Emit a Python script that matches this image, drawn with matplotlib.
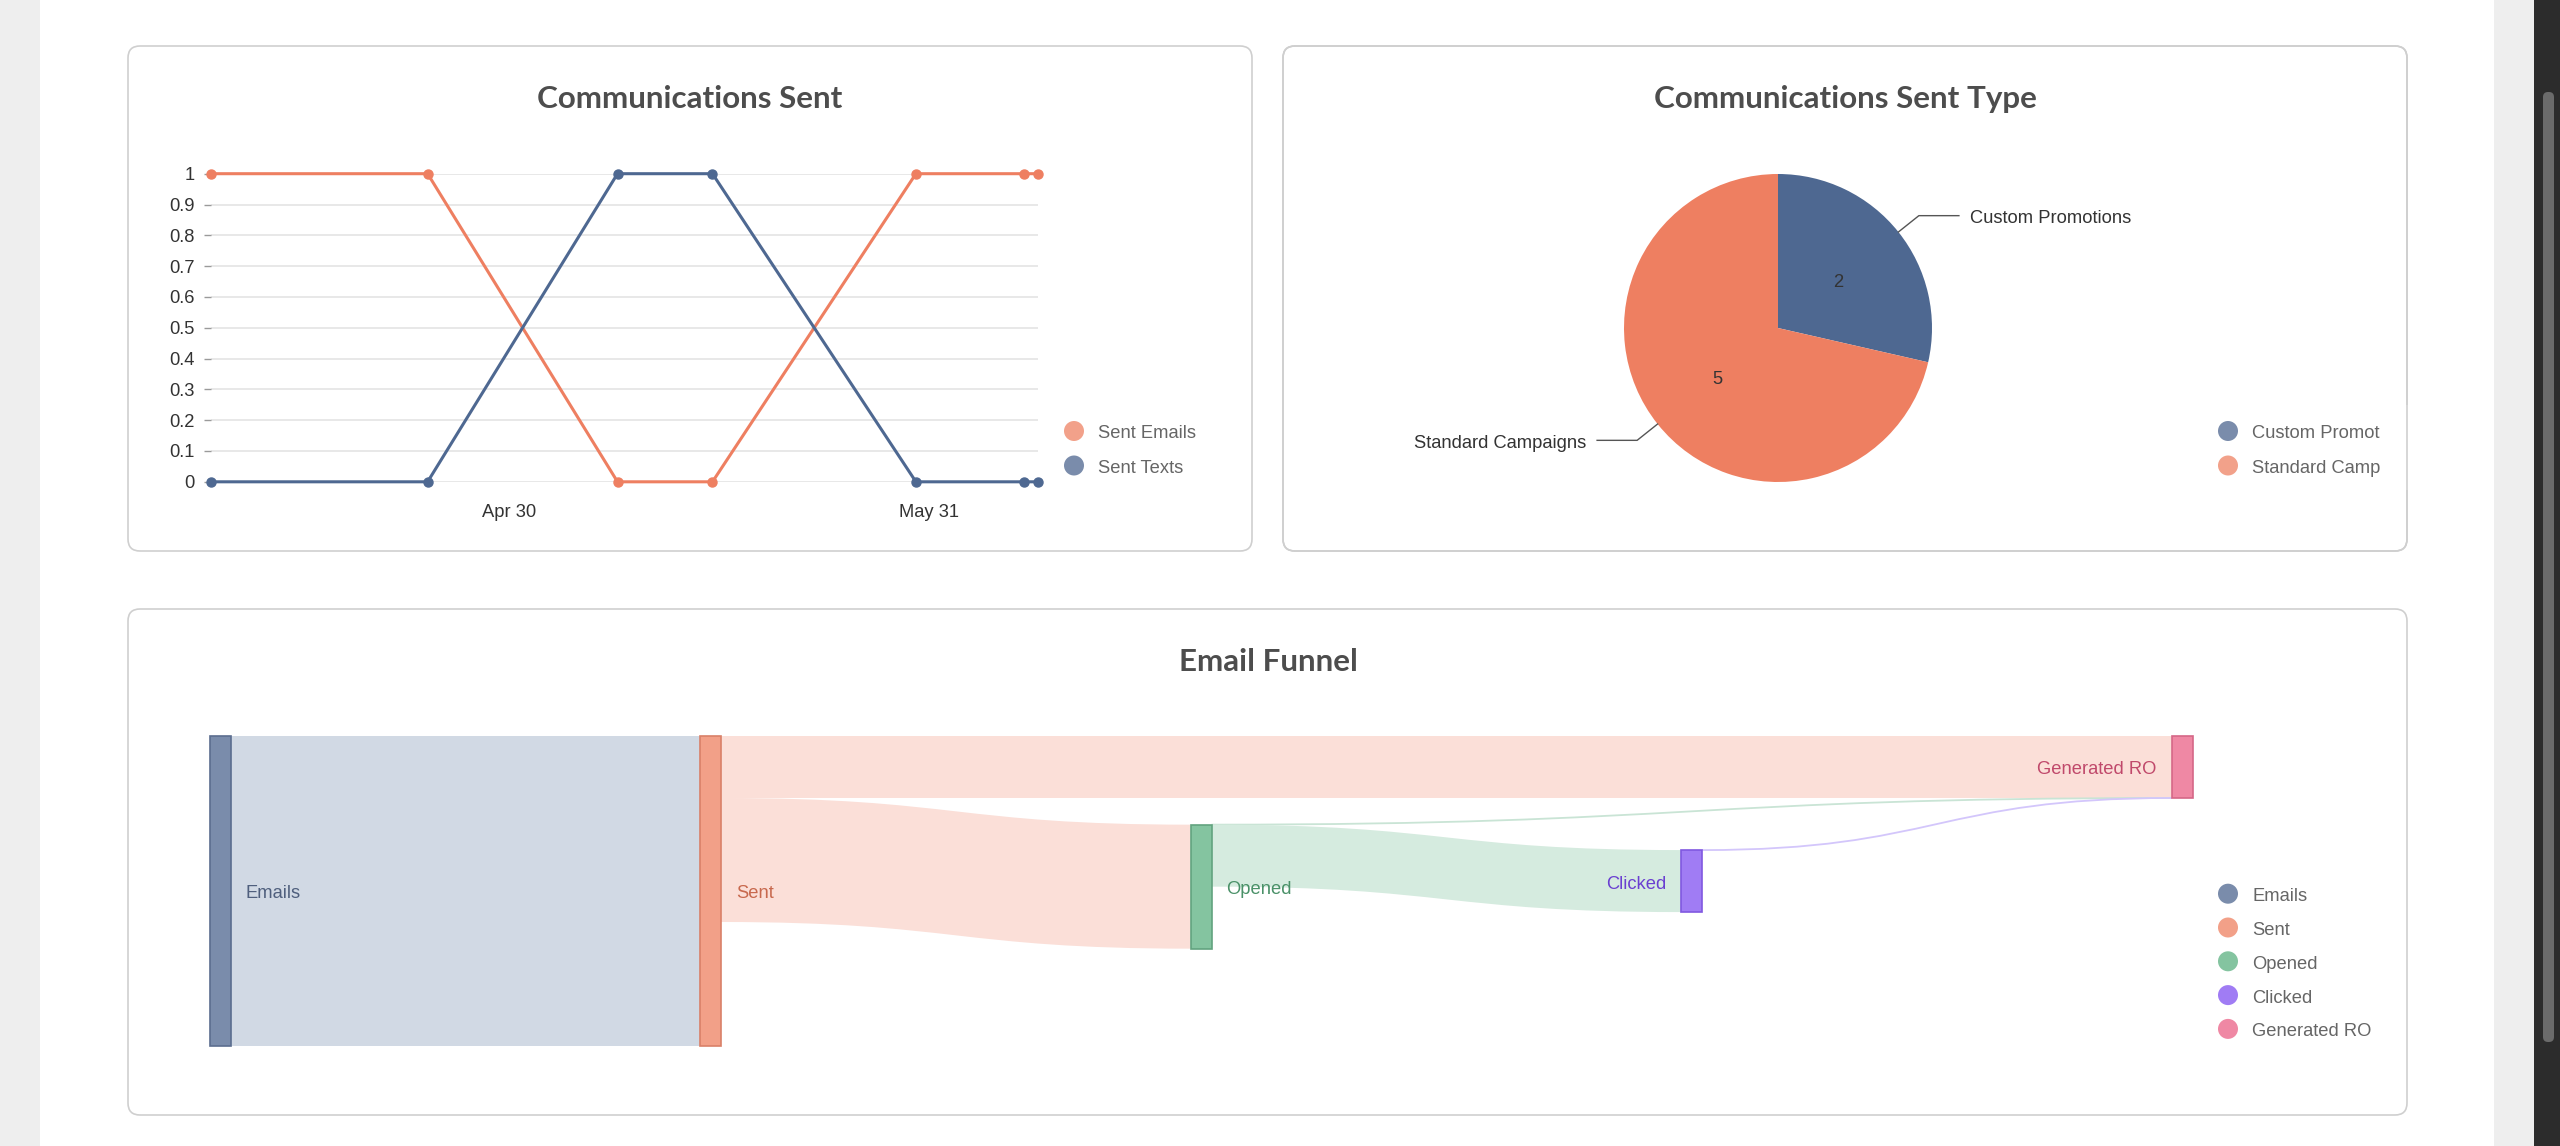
import matplotlib
matplotlib.use("Agg")
import matplotlib.pyplot as plt
import matplotlib.dates as mdates
from matplotlib.patches import FancyBboxPatch, Rectangle, PathPatch, Circle
from matplotlib.path import Path
import numpy as np
from datetime import date

# ---- data ----
comm_dates = [date(2024, 4, 8), date(2024, 4, 24), date(2024, 5, 8), date(2024, 5, 15),
              date(2024, 5, 30), date(2024, 6, 7), date(2024, 6, 8)]
sent_emails = [1, 1, 0, 0, 1, 1, 1]
sent_texts = [0, 0, 1, 1, 0, 0, 0]
comm_series = ["Sent Emails", "Sent Texts"]
comm_ticks = [date(2024, 4, 30), date(2024, 5, 31)]
comm_tick_labels = ["Apr 30", "May 31"]

type_labels = ["Custom Promotions", "Standard Campaigns"]
type_values = [2, 5]

funnel_nodes = ["Emails", "Sent", "Opened", "Clicked", "Generated RO"]
link_source = ["Emails", "Sent", "Sent", "Opened", "Opened", "Clicked"]
link_target = ["Sent", "Generated RO", "Opened", "Generated RO", "Clicked", "Generated RO"]
link_value = [5, 1, 2, 0, 1, 0]

# ---- layout / style ----
W, H = 2560, 1146
PT = 13.2
TITLE_FONT = dict(family="Lato", fontweight="bold", fontsize=22.6, color="#4d4d4d")
TXT_FONT = ["Liberation Sans", "DejaVu Sans"]
DY = 3  # small downward nudge (px) for centred labels

ORANGE = "#ee7f61"
BLUE = "#4e6891"
ORANGE_L = "#f2a18a"
BLUE_L = "#7a8cab"

node_layer = [0, 1, 2, 3, 4]
node_top = [0, 0, 1.43, 1.84, 0]          # sankey vertical layout, in value units
node_fill = ["#7a8cab", "#f2a088", "#84c4a0", "#a07cf4", "#ef88a4"]
node_edge = ["#5b6d8f", "#d98068", "#62a37f", "#8058e0", "#d56787"]
link_fill = ["#d1d9e4", "#fbdfd8", "#d5ebdf", "#d8cdfc", "#fbd5df"]
label_color = ["#4f5f7d", "#c8694e", "#4a9168", "#6a3fd1", "#c0496b"]
label_side = ["right", "right", "right", "left", "left"]

plt.rcParams["font.family"] = TXT_FONT

fig = plt.figure(figsize=(W / 100, H / 100), dpi=100)


def px_axes(x0, y0, x1, y1):
    return fig.add_axes([x0 / W, 1 - y1 / H, (x1 - x0) / W, (y1 - y0) / H])


# background, page chrome, panels
bg = fig.add_axes([0, 0, 1, 1], zorder=0)
bg.set_xlim(0, W)
bg.set_ylim(H, 0)
bg.axis("off")
bg.add_patch(Rectangle((0, 0), 40, H, color="#eeeeee", lw=0))
bg.add_patch(Rectangle((2494, 0), 40, H, color="#eeeeee", lw=0))
bg.add_patch(Rectangle((2534, 0), 26, H, color="#2c2c2c", lw=0))
bg.add_patch(FancyBboxPatch((2543, 92), 11, 950, boxstyle="round,pad=0,rounding_size=5",
                            color="#6b6b6b", lw=0))
panels = [(128, 46, 1252, 551), (1283, 46, 2407, 551), (128, 609, 2407, 1115)]
for (x0, y0, x1, y1) in panels:
    bg.add_patch(FancyBboxPatch((x0, y0), x1 - x0, y1 - y0, boxstyle="round,pad=0,rounding_size=12",
                                facecolor="white", edgecolor="#cfcfcf", lw=1.2, zorder=1))

bg.text(690, 99, "Communications Sent", ha="center", va="center", **TITLE_FONT)
bg.text(1845, 99, "Communications Sent Type", ha="center", va="center", **TITLE_FONT)
bg.text(1268, 662, "Email Funnel", ha="center", va="center", **TITLE_FONT)


def legend(x, y0, step, names, colors):
    for i, (name, c) in enumerate(zip(names, colors)):
        y = y0 + step * i
        bg.add_patch(Circle((x, y), 10, color=c, lw=0, zorder=2))
        bg.text(x + 24, y + DY, name, ha="left", va="center", fontsize=PT, color="#666666", zorder=3)


# ---- Communications Sent (line chart) ----
ax1 = px_axes(210.6, 173.7, 1038, 481.8)
ax1.patch.set_alpha(0)
ax1.plot(comm_dates, sent_emails, color=ORANGE, lw=2.2, marker="o", ms=6.5, clip_on=False, zorder=3)
ax1.plot(comm_dates, sent_texts, color=BLUE, lw=2.2, marker="o", ms=6.5, clip_on=False, zorder=3)
ax1.set_xlim(comm_dates[0], comm_dates[-1])
ax1.set_ylim(0, 1)
yt = np.round(np.arange(0, 1.01, 0.1), 1)
ax1.set_yticks(yt)
ax1.set_yticklabels([f"{v:g}" for v in yt])
ax1.set_xticks(mdates.date2num(comm_ticks))
ax1.set_xticklabels(comm_tick_labels)
ax1.yaxis.grid(True, color="#e2e2e2", lw=1.1)
ax1.set_axisbelow(True)
for s in ax1.spines.values():
    s.set_visible(False)
ax1.tick_params(axis="y", length=5, width=1, color="#9a9a9a", pad=6.5, labelsize=PT, labelcolor="#333333")
ax1.tick_params(axis="x", length=0, pad=16, labelsize=PT, labelcolor="#333333")
legend(1074, 431, 34.5, comm_series, [ORANGE_L, BLUE_L])

# ---- Communications Sent Type (pie) ----
ax2 = px_axes(1624, 174, 1932, 482)
wedges, _ = ax2.pie(type_values, colors=[BLUE, ORANGE], startangle=90, counterclock=False,
                    radius=1, wedgeprops=dict(linewidth=0))
ax2.set_xlim(-1, 1)
ax2.set_ylim(-1, 1)
ax2.axis("off")
dy2 = DY / 154
for w, lab, val in zip(wedges, type_labels, type_values):
    th = np.radians((w.theta1 + w.theta2) / 2)
    c, s = np.cos(th), np.sin(th)
    ax2.text(0.5 * c, 0.5 * s - dy2, str(val), ha="center", va="center", fontsize=PT, color="#333333")
    sign = 1 if c > 0 else -1
    p1 = (1.17 * c, 1.17 * s)
    p2 = (p1[0] + sign * 0.26, p1[1])
    ax2.plot([c, p1[0], p2[0]], [s, p1[1], p2[1]], color="#555555", lw=1, clip_on=False)
    ax2.text(p2[0] + sign * 0.07, p2[1] - dy2, lab, ha="left" if sign > 0 else "right", va="center",
             fontsize=PT, color="#333333")
legend(2228, 431, 34.5, type_labels, [BLUE_L, ORANGE_L])
# the legend of this panel is cut off on the right: mask the overflow, then redraw the border
bg.add_patch(Rectangle((2380, 405), 60, 85, facecolor="white", lw=0, zorder=5))
x0, y0, x1, y1 = panels[1]
bg.add_patch(FancyBboxPatch((x0, y0), x1 - x0, y1 - y0, boxstyle="round,pad=0,rounding_size=12",
                            facecolor="none", edgecolor="#cfcfcf", lw=1.2, zorder=6))

# ---- Email Funnel (sankey) ----
NW = 21 / 490.5
GAP = 15 / 490.5
ax3 = px_axes(209.5, 736, 2192.6, 1046)
ax3.axis("off")
idx = {n: i for i, n in enumerate(funnel_nodes)}
in_sum = {n: sum(v for t, v in zip(link_target, link_value) if t == n) for n in funnel_nodes}
out_sum = {n: sum(v for s, v in zip(link_source, link_value) if s == n) for n in funnel_nodes}
node_val = [max(in_sum[n], out_sum[n]) for n in funnel_nodes]
ax3.set_xlim(0, max(node_layer) + NW)
ax3.set_ylim(max(node_val), 0)
dy3 = DY / 62

out_off = {n: 0 for n in funnel_nodes}
in_off = {n: 0 for n in funnel_nodes}
for s, t, v in zip(link_source, link_target, link_value):
    i, j = idx[s], idx[t]
    sy = node_top[i] + out_off[s]
    ty = node_top[j] + in_off[t]
    out_off[s] += v
    in_off[t] += v
    x0 = node_layer[i] + NW
    x1 = node_layer[j]
    xm = (x0 + x1) / 2
    if v > 0:
        verts = [(x0, sy), (xm, sy), (xm, ty), (x1, ty), (x1, ty + v),
                 (xm, ty + v), (xm, sy + v), (x0, sy + v), (x0, sy)]
        codes = [Path.MOVETO, Path.CURVE4, Path.CURVE4, Path.CURVE4, Path.LINETO,
                 Path.CURVE4, Path.CURVE4, Path.CURVE4, Path.CLOSEPOLY]
        ax3.add_patch(PathPatch(Path(verts, codes), facecolor=link_fill[i], edgecolor="none", zorder=1))
    else:
        verts = [(x0, sy), (xm, sy), (xm, ty), (x1, ty)]
        codes = [Path.MOVETO, Path.CURVE4, Path.CURVE4, Path.CURVE4]
        line_c = "#c9e4d5" if s == "Opened" else "#d3c6fb"
        ax3.add_patch(PathPatch(Path(verts, codes), facecolor="none", edgecolor=line_c, lw=1.3, zorder=1))

for i, n in enumerate(funnel_nodes):
    ax3.add_patch(Rectangle((node_layer[i], node_top[i]), NW, node_val[i], facecolor=node_fill[i],
                            edgecolor=node_edge[i], lw=1.2, zorder=3, clip_on=False))
    yc = node_top[i] + node_val[i] / 2 + dy3
    if label_side[i] == "right":
        ax3.text(node_layer[i] + NW + GAP, yc, n, ha="left", va="center", fontsize=PT, color=label_color[i])
    else:
        ax3.text(node_layer[i] - GAP, yc, n, ha="right", va="center", fontsize=PT, color=label_color[i])

legend(2228, 893.7, 33.8, funnel_nodes, node_fill)

fig.savefig("out.png", dpi=100)
